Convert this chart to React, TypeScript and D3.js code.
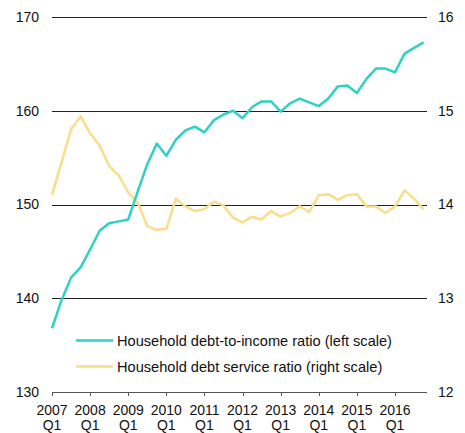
import React from "react";
import * as d3 from "d3";

const years = ["2007", "2008", "2009", "2010", "2011", "2012", "2013", "2014", "2015", "2016"];
const debtToIncome = [
  136.8, 139.8, 142.2, 143.3, 145.2, 147.2, 148.0, 148.2, 148.4, 151.4,
  154.3, 156.5, 155.2, 156.9, 157.9, 158.3, 157.7, 159.0, 159.6, 160.0,
  159.2, 160.4, 161.0, 161.0, 159.9, 160.8, 161.3, 160.9, 160.5, 161.3,
  162.6, 162.7, 161.9, 163.4, 164.5, 164.5, 164.1, 166.1, 166.7, 167.3,
];
const debtService = [
  14.10, 14.45, 14.80, 14.94, 14.76, 14.63, 14.41, 14.31, 14.13, 14.02,
  13.77, 13.73, 13.74, 14.06, 13.98, 13.93, 13.95, 14.03, 13.99, 13.86,
  13.81, 13.87, 13.84, 13.93, 13.87, 13.91, 13.98, 13.92, 14.10, 14.11,
  14.05, 14.10, 14.11, 13.98, 13.98, 13.91, 13.98, 14.15, 14.06, 13.95,
];
const leftTicks = [130, 140, 150, 160, 170];
const rightTicks = [12, 13, 14, 15, 16];
const legendLabels = [
  "Household debt-to-income ratio (left scale)",
  "Household debt service ratio (right scale)",
];

const TEAL = "#2dd2c3";
const YELLOW = "#f8dd8b";

export default function App() {
  const width = 465;
  const height = 433;
  const x = d3.scaleLinear().domain([0, 36]).range([52, 395]);
  const yL = d3.scaleLinear().domain([130, 170]).range([392, 17]);
  const yR = d3.scaleLinear().domain([12, 16]).range([392, 17]);
  const lineL = d3.line<number>().x((_, i) => x(i)).y((d) => yL(d));
  const lineR = d3.line<number>().x((_, i) => x(i)).y((d) => yR(d));
  const font = "'Liberation Sans', Arial, sans-serif";
  const x0 = 52;
  const x1 = 427;

  return (
    <svg
      width={width}
      height={height}
      style={{ position: "absolute", left: 0, top: 0 }}
      fontFamily={font}
    >
      <rect width={width} height={height} fill="#fff" />
      {leftTicks.map((t, i) => (
        <g key={t}>
          <line
            x1={x0}
            x2={x1}
            y1={Math.round(yL(t)) + 0.5}
            y2={Math.round(yL(t)) + 0.5}
            stroke={i === 0 ? "#555" : "#222"}
            strokeWidth={1}
          />
          <text x={39} y={yL(t)} dy="0.35em" textAnchor="end" fontSize={14} fill="#111">
            {t}
          </text>
          <text x={438} y={yR(rightTicks[i])} dy="0.35em" textAnchor="start" fontSize={14} fill="#111">
            {rightTicks[i]}
          </text>
        </g>
      ))}
      {years.map((y, i) => (
        <g key={y}>
          <line
            x1={Math.round(x(i * 4)) + 0.5}
            x2={Math.round(x(i * 4)) + 0.5}
            y1={392}
            y2={396}
            stroke="#555"
          />
          <text x={x(i * 4)} y={415} textAnchor="middle" fontSize={14} fill="#111">
            {y}
          </text>
          <text x={x(i * 4)} y={430} textAnchor="middle" fontSize={14} fill="#111">
            Q1
          </text>
        </g>
      ))}
      <path d={lineR(debtService) || ""} fill="none" stroke={YELLOW} strokeWidth={2.5} strokeLinejoin="round" />
      <path d={lineL(debtToIncome) || ""} fill="none" stroke={TEAL} strokeWidth={2.5} strokeLinejoin="round" />
      {legendLabels.map((l, i) => (
        <g key={l} transform={`translate(0, ${340.5 + i * 26})`}>
          <line x1={76} x2={113} y1={0} y2={0} stroke={i === 0 ? TEAL : YELLOW} strokeWidth={2.5} />
          <text x={117} y={0} dy="0.35em" fontSize={14.6} fill="#111">
            {l}
          </text>
        </g>
      ))}
    </svg>
  );
}
